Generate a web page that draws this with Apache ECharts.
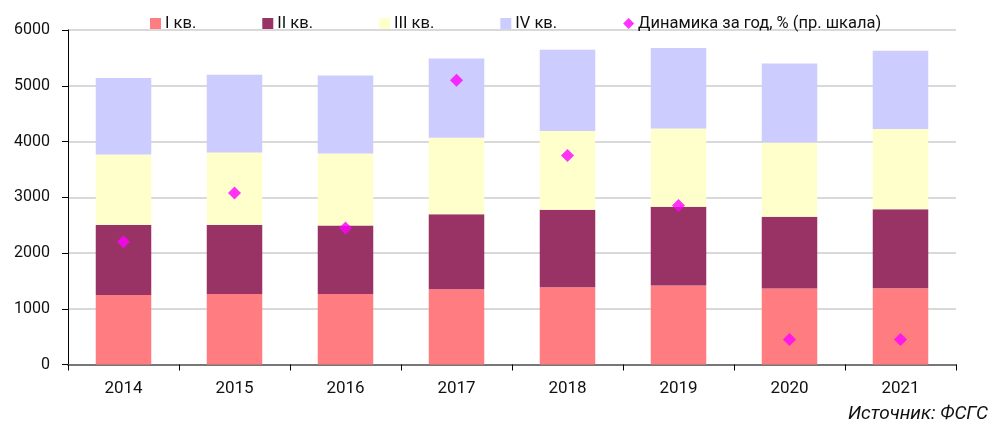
<!DOCTYPE html>
<html><head><meta charset="utf-8">
<script src="https://cdn.jsdelivr.net/npm/echarts@6/dist/echarts.min.js"></script>
<style>html,body{margin:0;padding:0;background:#fff}#c{width:999px;height:427px}</style>
</head><body><div id="c"></div>
<script>
var categories = ['2014','2015','2016','2017','2018','2019','2020','2021'];
var q1 = [1248, 1266, 1266, 1350, 1386, 1415, 1361, 1368];
var q2 = [1256, 1238, 1226, 1347, 1388, 1413, 1287, 1418];
var q3 = [1263, 1299, 1293, 1369, 1413, 1405, 1334, 1436];
var q4 = [1371, 1395, 1400, 1424, 1459, 1444, 1418, 1406];
var dyn = [-1.6, 0.15, -1.1, 4.2, 1.5, -0.3, -5.1, -5.1];
var seriesNames = ['I кв.', 'II кв.', 'III кв.', 'IV кв.', 'Динамика за год, % (пр. шкала)'];
var leftTicks = {min: 0, max: 6000, interval: 1000};
var rightTicks = {min: -6, max: 6, interval: 2};

var font = 'Roboto, "Noto Sans", sans-serif';
var colors = ['#FF7C80', '#993366', '#FFFFCC', '#CCCCFF'];
var chart = echarts.init(document.getElementById('c'), null, {renderer: 'canvas'});
var barData = [q1, q2, q3, q4];
var series = barData.map(function (d, i) {
  return {
    name: seriesNames[i], type: 'bar', stack: 'total', data: d,
    barWidth: '50%', itemStyle: {color: colors[i]}, emphasis: {disabled: true}
  };
});
series.push({
  name: seriesNames[4], type: 'scatter', yAxisIndex: 1, data: dyn,
  symbol: 'diamond', symbolSize: 13, itemStyle: {color: '#FF00FF'}, z: 5
});
chart.setOption({
  animation: false,
  textStyle: {fontFamily: font},
  graphic: [{
    type: 'text', right: 11, top: 405,
    style: {text: 'Источник: ФСГС', font: 'italic 19px ' + font, fill: '#111'}
  }],
  legend: {
    left: 145, top: 10, itemGap: 66, itemWidth: 11, itemHeight: 11,
    textStyle: {fontSize: 16.5, color: '#111', fontFamily: font, padding: [0, 0, 0, -1]},
    data: [
      {name: seriesNames[0], icon: 'rect'},
      {name: seriesNames[1], icon: 'rect'},
      {name: seriesNames[2], icon: 'rect'},
      {name: seriesNames[3], icon: 'rect'},
      {name: seriesNames[4], icon: 'diamond'}
    ]
  },
  grid: {left: 68, right: 43, top: 30, bottom: 62.5, containLabel: false},
  xAxis: {
    type: 'category', data: categories, boundaryGap: true,
    axisLine: {lineStyle: {color: '#777', width: 2}},
    axisTick: {show: true, length: 6, lineStyle: {color: '#000', width: 1}},
    axisLabel: {fontSize: 17, color: '#111', margin: 16, fontFamily: font}
  },
  yAxis: [{
    type: 'value', min: leftTicks.min, max: leftTicks.max, interval: leftTicks.interval,
    axisLine: {show: true, lineStyle: {color: '#000', width: 1}},
    axisTick: {show: true, length: 6, lineStyle: {color: '#000'}},
    axisLabel: {fontSize: 16, color: '#111', margin: 18, fontFamily: font,
      formatter: function (v) { return String(v); }},
    splitLine: {show: true, lineStyle: {color: '#d9d9d9', width: 2}}
  }, {
    type: 'value', min: rightTicks.min, max: rightTicks.max, interval: rightTicks.interval,
    show: false, splitLine: {show: false}
  }],
  series: series
});
</script></body></html>
